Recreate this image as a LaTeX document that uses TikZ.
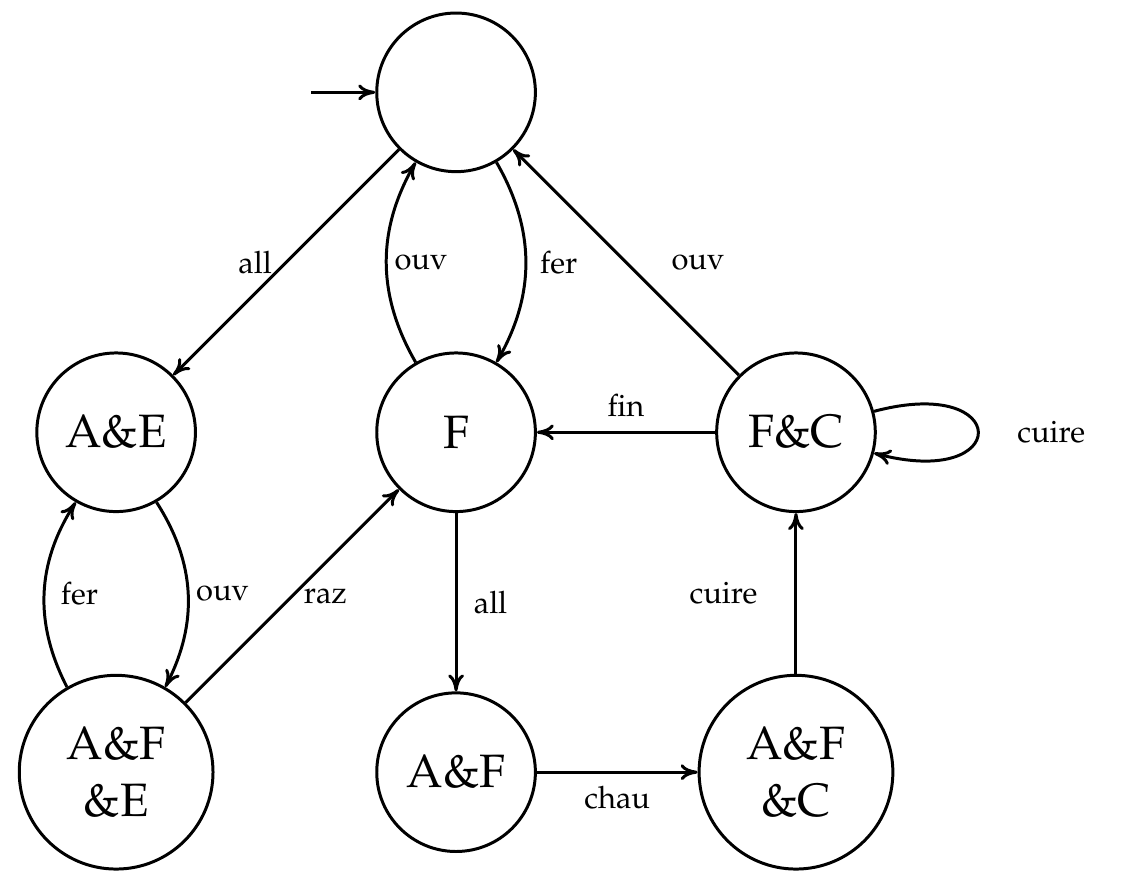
\documentclass[tikz,border=0pt]{standalone}
\usepackage[T1]{fontenc}
\usepackage{mathpazo}
\usepackage{tikz}
\usetikzlibrary{arrows.meta,positioning}
\tikzset{
  >={Computer Modern Rightarrow[length=3mm,width=2.8mm]},
  statenode/.style={
    circle,
    draw,
    line width=1.5pt,
    minimum size=2.8cm,
    inner sep=0pt,
    align=center,
    font=\fontsize{23.5}{28.5}\selectfont
  },
  bigstatenode/.style={
    statenode,
    minimum size=3.42cm
  },
  arrow/.style={
    ->,
    line width=1.5pt
  },
  lab/.style={
    font=\fontsize{15.5}{18}\selectfont
  }
}

\begin{document}
\begin{tikzpicture}
\useasboundingbox (-2.05,-2.01) rectangle (17.79,13.63);

\node[statenode] (s0) at (6,12) {};
\node[statenode] (ae) at (0,6) {A\&E};
\node[statenode] (f) at (6,6) {F};
\node[statenode] (fc) at (12,6) {F\&C};
\node[bigstatenode] (afe) at (0,0) {A\&F\\\&E};
\node[statenode] (af) at (6,0) {A\&F};
\node[bigstatenode] (afc) at (12,0) {A\&F\\\&C};

\coordinate (entry) at (3.44,12);
\draw[arrow] (entry) -- (s0);

\draw[arrow] (s0) -- node[lab, left=1.1mm] {all} (ae);
\draw[arrow] (f) to[bend left=30] node[lab, right=0mm] {ouv} (s0);
\draw[arrow] (s0) to[bend left=30] node[lab, right=1.1mm] {fer} (f);
\draw[arrow] (fc) -- node[lab, right=6.6mm] {ouv} (s0);
\draw[arrow] (fc) -- node[lab, above=1.4mm] {fin} (f);
\draw[arrow] (fc) to[out=15, in=-15, looseness=8.8] node[lab, right=5.5mm] {cuire} (fc);

\draw[arrow] (afe) to[bend left=30] node[lab, right=1.5mm] {fer} (ae);
\draw[arrow] (ae) to[bend left=30] node[lab, right=0mm] {ouv} (afe);
\draw[arrow] (afe) -- node[lab, right=0.6mm] {raz} (f);
\draw[arrow] (f) -- node[lab, right=1.7mm] {all} (af);
\draw[arrow] (af) -- node[lab, below=1mm] {chau} (afc);
\draw[arrow] (afc) -- node[lab, left=5.4mm] {cuire} (fc);

\end{tikzpicture}
\end{document}
